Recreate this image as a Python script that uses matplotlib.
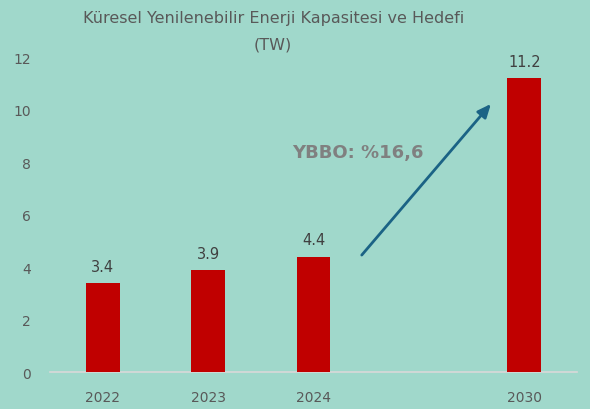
import matplotlib.pyplot as plt

years = ["2022", "2023", "2024", "2030"]
positions = [0, 1, 2, 4]
capacity = [3.4, 3.9, 4.4, 11.2]
cagr_label = "YBBO: %16,6"

bg = "#a0d8cb"

fig, ax = plt.subplots(figsize=(5.9, 4.1), dpi=100)
fig.patch.set_facecolor(bg)
ax.set_facecolor(bg)
fig.subplots_adjust(left=0.085, right=0.978, top=0.858, bottom=0.09)

ax.bar(positions, capacity, width=0.32, color="#c00000", zorder=3)
for x, v in zip(positions, capacity):
    ax.text(x, v + 0.35, f"{v}", ha="center", va="bottom", fontsize=10.5, color="#404040")

ax.set_xlim(-0.5, 4.5)
ax.set_ylim(0, 12)
ax.set_yticks(range(0, 13, 2))
ax.set_xticks(positions)
ax.set_xticklabels(years)
ax.tick_params(length=0, labelsize=10, colors="#595959", pad=13)
ax.tick_params(axis="y", pad=14)

for s in ["top", "right", "left"]:
    ax.spines[s].set_visible(False)
ax.spines["bottom"].set_color("#d9d9d9")
ax.spines["bottom"].set_linewidth(1.2)

# growth arrow
ax.annotate("", xy=(3.70, 10.3), xytext=(2.44, 4.38),
            arrowprops=dict(arrowstyle="-|>,head_length=0.8,head_width=0.35",
                            color="#1b6385", lw=2))
ax.text(1.8, 8.38, cagr_label, fontsize=13, fontweight="bold", color="#808080",
        ha="left", va="center")

fig.suptitle("Küresel Yenilenebilir Enerji Kapasitesi ve Hedefi\n(TW)",
             x=0.463, y=0.972, fontsize=11.5, color="#595959",
             family=["Liberation Sans Narrow", "DejaVu Sans"], linespacing=1.95)

fig.savefig("out.png", dpi=100, facecolor=bg)
